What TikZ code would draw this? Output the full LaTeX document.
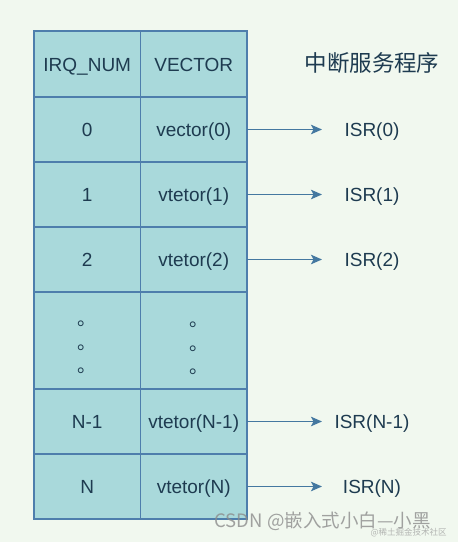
\documentclass[tikz,border=0pt]{standalone}
\usepackage{fontspec}
\setmainfont{Liberation Sans}
\newfontfamily\cjk{Noto Sans CJK SC}
\usepackage{xcolor}
\usetikzlibrary{arrows.meta,positioning}
\definecolor{bgcol}{HTML}{F1F8EF}
\definecolor{cellfill}{HTML}{A9D9DB}
\definecolor{cellline}{HTML}{4E7EAC}
\definecolor{textcol}{HTML}{1E3B50}
\definecolor{arrowcol}{HTML}{4478A0}

\begin{document}
\begin{tikzpicture}[x=1pt, y=1pt, node distance=0pt,
    cell/.style={rectangle, draw=cellline, fill=cellfill, line width=1.3pt, outer sep=0pt, inner sep=0pt,
        minimum width=106.5pt, minimum height=65pt, text height=14pt, text depth=0pt,
        text=textcol, font=\fontsize{19}{23}\selectfont},
    headcell/.style={cell, minimum height=66pt},
    dotcell/.style={cell, minimum height=97pt},
    dots/.style={align=center, inner sep=0pt, text=textcol, font=\cjk\fontsize{19}{23.5}\selectfont},
    isr/.style={rectangle, outer sep=0pt, inner sep=0pt, minimum width=100pt, text height=14pt, text depth=0pt,
        text=textcol, font=\fontsize{19}{23}\selectfont},
    link/.style={draw=arrowcol, line width=1.5pt, -{Stealth[length=11pt,width=9.5pt,inset=2.5pt]}}]
    \fill[bgcol] (0,0) rectangle (458,-542);
    \useasboundingbox (0,0) rectangle (458,-542);

    % table
    \node[headcell, anchor=north west] (irqh) at (34,-31) {IRQ\_NUM};
    \node[headcell, right=of irqh] (vech) {VECTOR};
    \node[cell, below=of irqh] (irq0) {0};
    \node[cell, below=of vech] (vec0) {vector(0)};
    \node[cell, below=of irq0] (irq1) {1};
    \node[cell, below=of vec0] (vec1) {vtetor(1)};
    \node[cell, below=of irq1] (irq2) {2};
    \node[cell, below=of vec1] (vec2) {vtetor(2)};
    \node[dotcell, below=of irq2] (irqd) {};
    \node[dotcell, below=of vec2] (vecd) {};
    \node[dots, yshift=-7pt] (irqdots) at (irqd) {。\\。\\。};
    \node[dots, xshift=5pt, yshift=-8pt] (vecdots) at (vecd) {。\\。\\。};
    \node[cell, below=of irqd] (irqn1) {N-1};
    \node[cell, below=of vecd] (vecn1) {vtetor(N-1)};
    \node[cell, below=of irqn1] (irqn) {N};
    \node[cell, below=of vecn1] (vecn) {vtetor(N)};

    % service routines
    \node[isr, right=75pt of vec0] (isr0) {ISR(0)};
    \node[isr, right=75pt of vec1] (isr1) {ISR(1)};
    \node[isr, right=75pt of vec2] (isr2) {ISR(2)};
    \node[isr, right=75pt of vecn1] (isrn1) {ISR(N-1)};
    \node[isr, right=75pt of vecn] (isrn) {ISR(N)};
    \node[isr, text height=17pt, text depth=2pt, font=\cjk\fontsize{22.5}{26}\selectfont] (isrh) at (isr0 |- vech) {中断服务程序};

    \draw[link] (vec0) -- (isr0);
    \draw[link] (vec1) -- (isr1);
    \draw[link] (vec2) -- (isr2);
    \draw[link] (vecn1) -- (isrn1);
    \draw[link] (vecn) -- (isrn);

    % watermark
    \node[anchor=west, text=black!45, opacity=0.8, font=\cjk\fontsize{18.5}{20}\selectfont] (wm) at (211,-521) {CSDN @嵌入式小白—小黑};
    \node[anchor=west, text=black!40, opacity=0.7, font=\cjk\fontsize{8.5}{10}\selectfont] (wmsub) at (367,-533) {@稀土掘金技术社区};
\end{tikzpicture}
\end{document}
